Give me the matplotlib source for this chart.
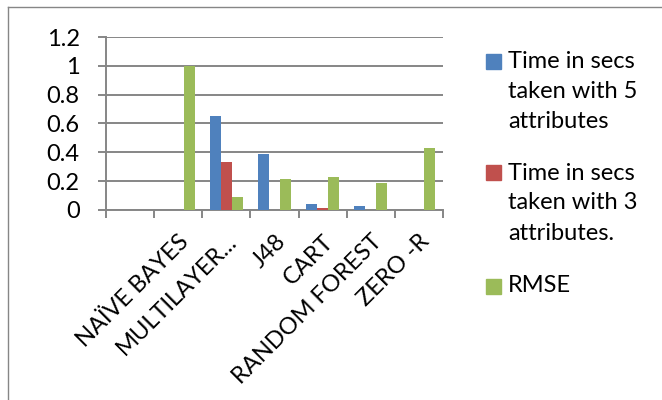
import matplotlib.pyplot as plt
from matplotlib.lines import Line2D
from matplotlib.patches import Rectangle
import numpy as np

categories = ["", "NAÏVE BAYES", "MULTILAYER...", "J48", "CART", "RANDOM FOREST", "ZERO -R"]
time_5_attr = [0, 0, 0.65, 0.385, 0.045, 0.025, 0]
time_3_attr = [0, 0, 0.335, 0, 0.015, 0, 0]
rmse = [0, 1.0, 0.09, 0.215, 0.23, 0.19, 0.43]
series_names = ["Time in secs\ntaken with 5\nattributes",
                "Time in secs\ntaken with 3\nattributes.",
                "RMSE"]
y_ticks = [0, 0.2, 0.4, 0.6, 0.8, 1.0, 1.2]
y_tick_labels = ["0", "0.2", "0.4", "0.6", "0.8", "1", "1.2"]

colors = ["#4F81BD", "#C0504D", "#9BBB59"]
grey = "#868686"
fs = 17
plt.rcParams["font.family"] = ["Lato", "DejaVu Sans"]

W, H = 662, 400
fig = plt.figure(figsize=(W / 100, H / 100), dpi=100)
ax = fig.add_axes([106 / W, 1 - 210 / H, (443 - 106) / W, (210 - 37) / H])

x = np.arange(len(categories))
bw = 0.229
for i, vals in enumerate([time_5_attr, time_3_attr, rmse]):
    ax.bar(x + (i - 1) * bw, vals, bw, color=colors[i], zorder=3)

ax.set_xlim(-0.5, len(categories) - 0.5)
ax.set_ylim(0, 1.2)
ax.set_yticks(y_ticks, y_tick_labels, fontsize=fs)
ax.yaxis.grid(True, color=grey, lw=1.4, zorder=0)
ax.tick_params(axis="y", length=6, width=1.4, color=grey, pad=13)

ax.set_xticks(x, categories, fontsize=fs, rotation=45, ha="right",
              rotation_mode="anchor")
ax.set_xticks(np.arange(len(categories) + 1) - 0.5, minor=True)
ax.tick_params(axis="x", which="major", length=0, pad=15)
ax.tick_params(axis="x", which="minor", length=6, width=1.4, color=grey)

for s in ["top", "right"]:
    ax.spines[s].set_visible(False)
for s in ["left", "bottom"]:
    ax.spines[s].set_color(grey)
    ax.spines[s].set_linewidth(1.4)

# outer chart border (right/bottom edges cut off in the reference)
fig.add_artist(Line2D([8 / W, 8 / W], [0, 1 - 7 / H], color=grey, lw=1))
fig.add_artist(Line2D([8 / W, 1], [1 - 7 / H, 1 - 7 / H], color=grey, lw=1))

# legend
entry_tops = [61, 173, 286]
for name, col, top in zip(series_names, colors, entry_tops):
    fig.add_artist(Rectangle((486 / W, 1 - (top + 7.5) / H), 15 / W, 15 / H,
                             color=col, transform=fig.transFigure))
    for j, line in enumerate(name.split("\n")):
        fig.text(508 / W, 1 - (top + 30 * j) / H, line, fontsize=fs,
                 va="center", ha="left")

fig.savefig("out.png", dpi=100)
